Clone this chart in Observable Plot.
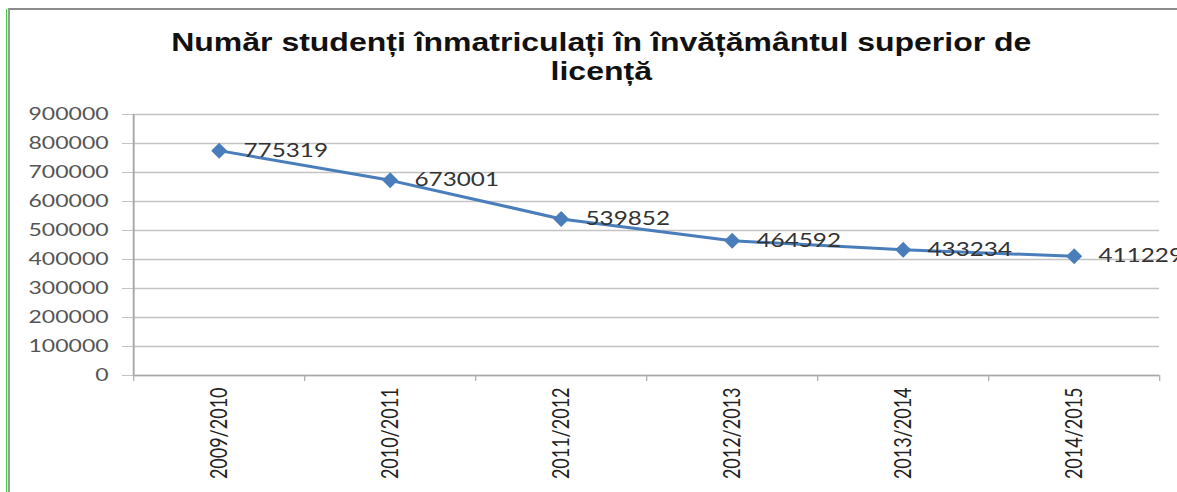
<!DOCTYPE html>
<html><head><meta charset="utf-8">
<script src="https://cdn.jsdelivr.net/npm/d3@7"></script>
<script src="https://cdn.jsdelivr.net/npm/@observablehq/plot@0.6"></script>
<style>
html,body{margin:0;padding:0;background:#fff;overflow:hidden;width:1177px;height:492px;}
#frame{position:absolute;left:8px;top:8px;width:1175px;height:490px;border-top:2px solid #8c8c8c;border-left:2px solid #9a9a9a;}
#green{position:absolute;left:6px;top:9px;width:1px;height:483px;background:#3fcf3f;}
#stage{position:absolute;left:0;top:0;width:920px;height:492px;transform:scaleX(1.2793);transform-origin:0 0;}
#title{position:absolute;left:0;width:940px;top:28px;text-align:center;font:bold 25px "Liberation Sans",Arial,sans-serif;line-height:29px;color:#111;}
#chart{position:absolute;left:0;top:95px;}
</style></head><body>
<div id="green"></div>
<div id="frame"></div>
<div id="stage">
  <div id="title">Număr studenți înmatriculați în învățământul superior de<br>licență</div>
  <div id="chart"></div>
</div>
<script>
const categories = ["2009/2010","2010/2011","2011/2012","2012/2013","2013/2014","2014/2015"];
const values = [775319, 673001, 539852, 464592, 433234, 411229];
const yTicks = [0,100000,200000,300000,400000,500000,600000,700000,800000,900000];

const data = categories.map((c, i) => ({cat: c, idx: i, value: values[i]}));
const boundaries = d3.range(categories.length + 1);
const centers = categories.map((c, i) => i + 0.5);

const diamond = {
  draw(ctx, size) {
    const r = Math.sqrt(size / Math.PI);
    const w = r * 0.78;
    ctx.moveTo(0, -r); ctx.lineTo(w, 0); ctx.lineTo(0, r); ctx.lineTo(-w, 0); ctx.closePath();
  }
};

const blue = "#4a7ebb";
const chart = Plot.plot({
  width: 920, height: 397,
  marginTop: 19, marginBottom: 117, marginLeft: 104, marginRight: 14,
  style: {fontFamily: "Lato, 'Open Sans', sans-serif", background: "transparent", overflow: "visible"},
  x: {type: "linear", domain: [0, categories.length]},
  y: {domain: [0, 900000]},
  marks: [
    Plot.ruleY(yTicks, {y: d => d, stroke: "#c3c3c3", strokeWidth: 1.5}),
    Plot.axisY({ticks: yTicks, tickSize: 8.6, tickPadding: 11, stroke: "#c3c3c3", tickFormat: d3.format("d"), fontSize: 18, fill: "#555", label: null}),
    Plot.ruleX([0], {stroke: "#a8a8a8", strokeWidth: 1.5}),
    Plot.ruleY([0], {stroke: "#a8a8a8", strokeWidth: 1.5}),
    Plot.axisX({ticks: boundaries, tickSize: 6, tickFormat: () => "", stroke: "#b0b0b0", label: null}),
    Plot.axisX({ticks: centers, tickSize: 0, tickPadding: 12, tickRotate: -90, tickFormat: v => categories[Math.floor(v)], fontSize: 18, fill: "#222", label: null}),
    Plot.line(data, {x: d => d.idx + 0.5, y: "value", stroke: blue, strokeWidth: 3}),
    Plot.dot(data, {x: d => d.idx + 0.5, y: "value", symbol: diamond, r: 8, fill: blue, stroke: "none"}),
    Plot.text(data, {x: d => d.idx + 0.5, y: "value", text: d => String(d.value), dx: 19, textAnchor: "start", fontSize: 19, fill: "#333"})
  ]
});
document.getElementById("chart").appendChild(chart);
</script>
</body></html>
